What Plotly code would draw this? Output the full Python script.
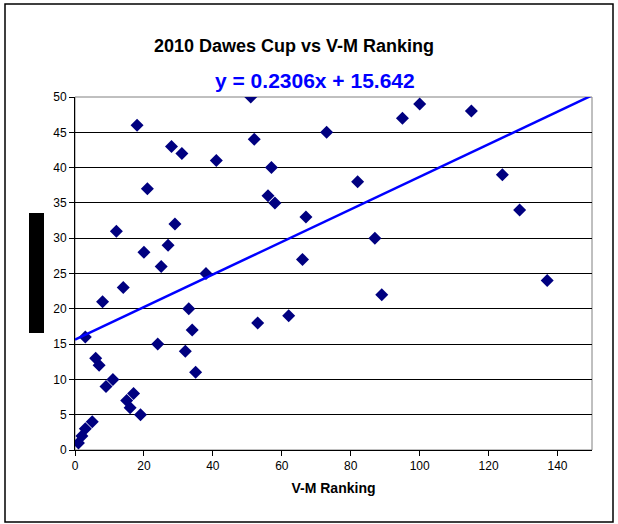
import plotly.graph_objects as go

# V-M ranking (x) vs 2010 Dawes Cup placing (y)
vm_rank = [1, 2, 3, 5, 19, 16, 15, 17, 9, 11, 35, 7, 6, 32, 24, 3, 34, 53, 62, 33,
           8, 89, 14, 137, 38, 25, 66, 20, 27, 87, 12, 29, 67, 129, 58, 56, 21, 82, 124, 57,
           41, 31, 28, 52, 73, 18, 95, 115, 100, 51]
dawes_place = list(range(1, 51))

# Excel trendline equation shown on the chart
slope = 0.2306
intercept = 15.642
trend_x = [0, 150]

FONT = "Arial, Liberation Sans, sans-serif"
W, H = 618, 524
L, R, T, B = 75, 26, 97, 74
PW, PH = W - L - R, H - T - B


def px(x):
    return (x - L) / PW


def py(y):
    return (H - B - y) / PH


fig = go.Figure()
fig.add_trace(go.Scatter(
    x=vm_rank,
    y=dawes_place,
    mode="markers",
    marker=dict(symbol="diamond", size=10, color="#000080"),
    showlegend=False,
))
fig.add_trace(go.Scatter(
    x=trend_x,
    y=[slope * v + intercept for v in trend_x],
    mode="lines",
    line=dict(color="#0000FF", width=2.5),
    showlegend=False,
))

fig.update_layout(
    width=W,
    height=H,
    paper_bgcolor="white",
    plot_bgcolor="white",
    margin=dict(l=L, r=R, t=T, b=B),
    font=dict(family=FONT, size=12, color="black"),
    xaxis=dict(
        range=[0, 150], dtick=20, showgrid=False, zeroline=False,
        showline=True, linecolor="black", linewidth=1,
        ticks="outside", ticklen=5, tickcolor="black",
        title=dict(text="<b>V-M Ranking</b>", font=dict(size=14), standoff=10),
    ),
    yaxis=dict(
        range=[0, 50], dtick=5, showgrid=True, gridcolor="black", gridwidth=1,
        zeroline=False, showline=True, linecolor="black", linewidth=1,
        ticks="outside", ticklen=5, tickcolor="black",
    ),
    shapes=[
        # plot area border (grey)
        dict(type="rect", xref="paper", yref="paper", x0=0, x1=1, y0=0, y1=1,
             line=dict(color="#808080", width=1), layer="below"),
        # outer chart border
        dict(type="rect", xref="paper", yref="paper", x0=px(5), x1=px(613),
             y0=py(522), y1=py(4), line=dict(color="black", width=1.5)),
        # blacked-out y-axis title
        dict(type="rect", xref="paper", yref="paper", x0=px(29), x1=px(44),
             y0=py(333), y1=py(213), fillcolor="black", line=dict(width=0)),
    ],
    annotations=[
        dict(text="<b>2010 Dawes Cup vs V-M Ranking</b>", xref="paper", yref="paper",
             x=px(294), y=py(34), showarrow=False, font=dict(size=18, color="black")),
        dict(text=f"<b>y = {slope}x + {intercept}</b>", xref="paper", yref="paper",
             x=px(315), y=py(67), showarrow=False, font=dict(size=21, color="#0000FF")),
    ],
)

fig.write_html(
    "out.html",
    config={"displayModeBar": False},
    post_script="document.body.style.margin='0';",
)
